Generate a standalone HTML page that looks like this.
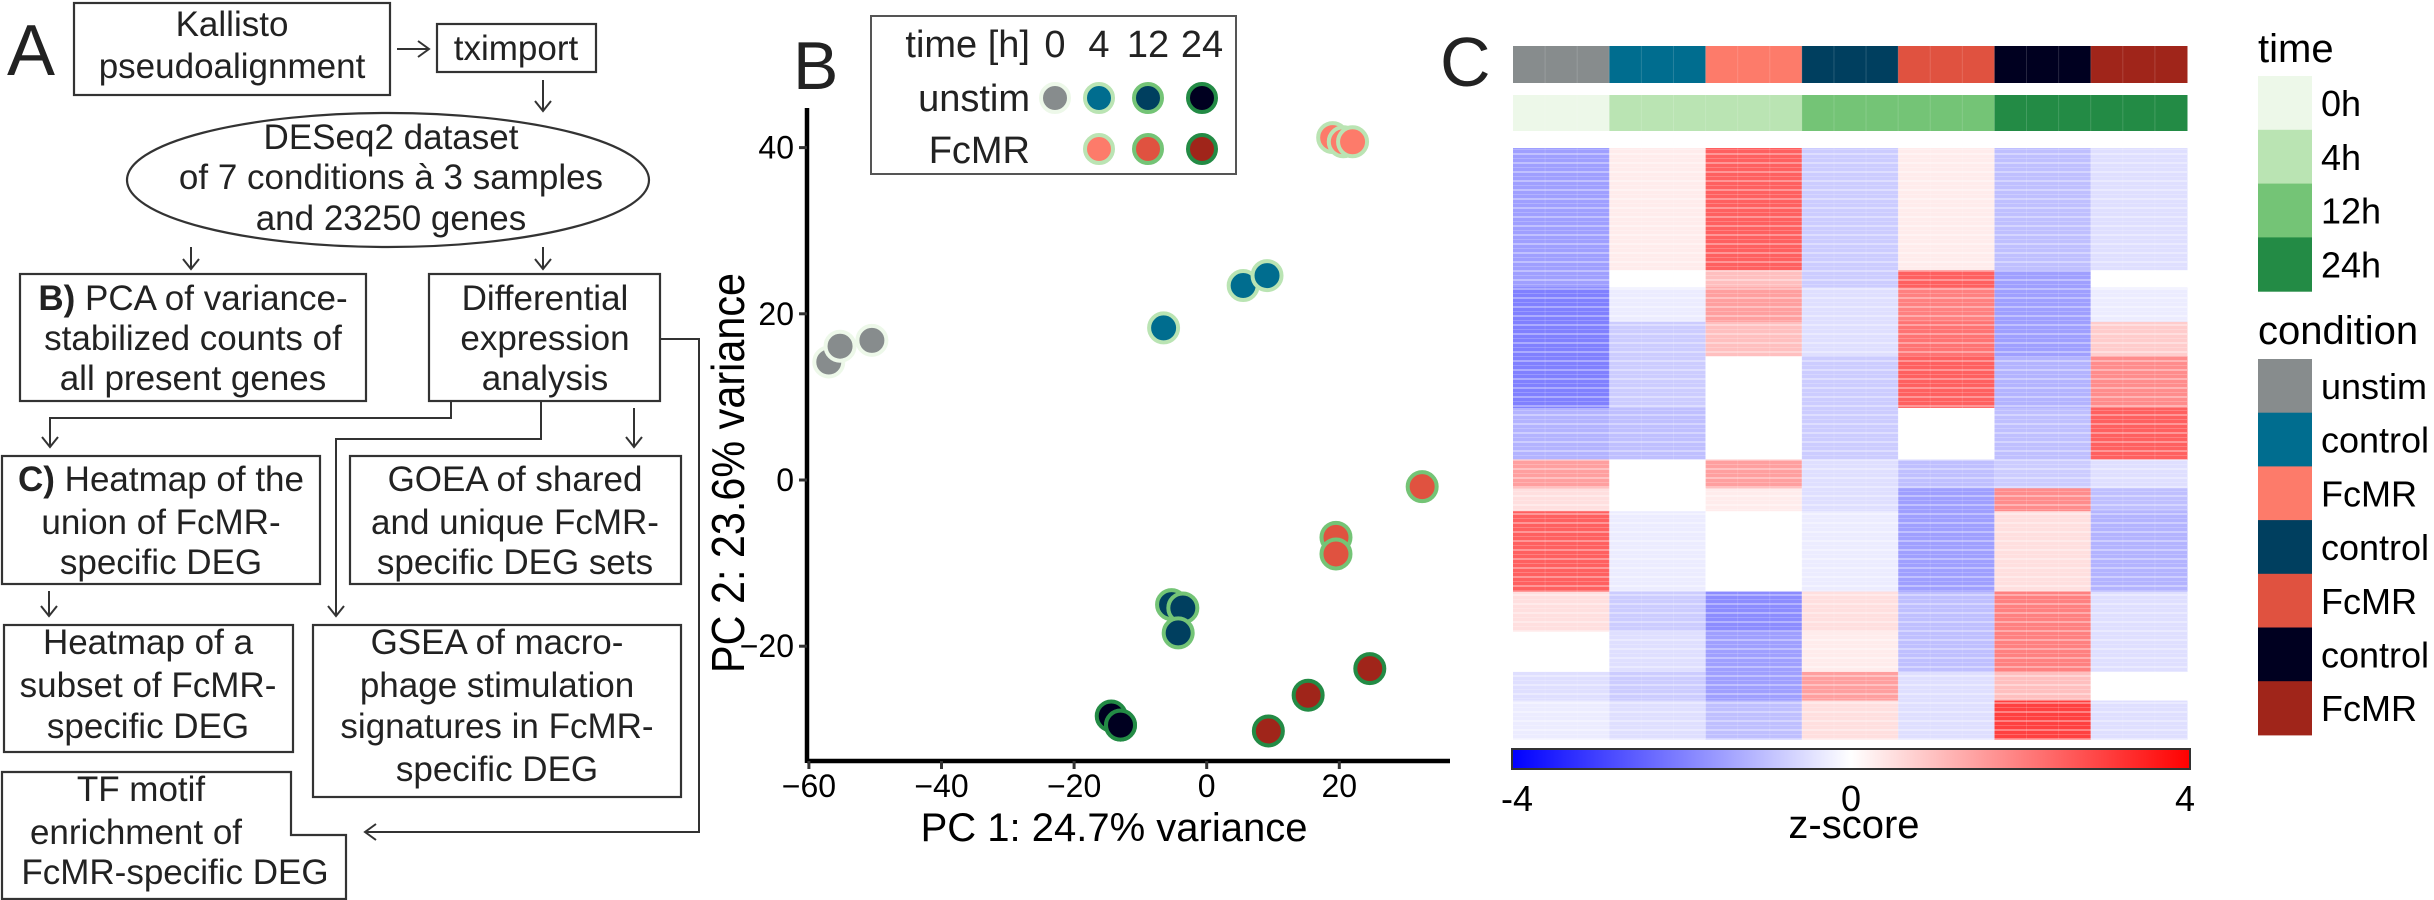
<!DOCTYPE html>
<html><head><meta charset="utf-8"><style>
html,body{margin:0;padding:0;background:#fff;}
svg{display:block;font-family:"Liberation Sans",sans-serif;}
.fc{font-size:35px;fill:#222;text-anchor:middle;}
.box{fill:none;stroke:#333;stroke-width:2.2;}
.ln{fill:none;stroke:#333;stroke-width:2;}
</style></head><body>
<svg id="fig" width="2434" height="900" viewBox="0 0 2434 900" xmlns="http://www.w3.org/2000/svg">
<!-- Panel A flowchart -->
<g>
<text x="7" y="75" font-size="72" fill="#222">A</text>
<rect class="box" x="74" y="3" width="316" height="92"/>
<text class="fc" x="232" y="36">Kallisto</text><text class="fc" x="232" y="78">pseudoalignment</text>
<path class="ln" d="M397 49 H428 M418 41 L429 49 L418 57"/>
<rect class="box" x="437" y="24" width="159" height="48"/>
<text class="fc" x="516" y="60">tximport</text>
<path class="ln" d="M543 80 V110 M535 101 L543 111 L551 101"/>
<ellipse class="box" cx="388" cy="180" rx="261" ry="67"/>
<text class="fc" x="391" y="149">DESeq2 dataset</text>
<text class="fc" x="391" y="189">of 7 conditions à 3 samples</text>
<text class="fc" x="391" y="230">and 23250 genes</text>
<path class="ln" d="M191 247 V268 M183 259 L191 269 L199 259 M543 247 V268 M535 259 L543 269 L551 259"/>
<rect class="box" x="20" y="274" width="346" height="127"/>
<text class="fc" x="193" y="310"><tspan font-weight="bold">B)</tspan> PCA of variance-</text>
<text class="fc" x="193" y="350">stabilized counts of</text>
<text class="fc" x="193" y="390">all present genes</text>
<rect class="box" x="429" y="274" width="231" height="127"/>
<text class="fc" x="545" y="310">Differential</text><text class="fc" x="545" y="350">expression</text><text class="fc" x="545" y="390">analysis</text>
<path class="ln" d="M660 339 H699 V832 H366 M376 824 L365 832 L376 840"/>
<path class="ln" d="M451 401 V418 H50 V446 M42 437 L50 447 L58 437"/>
<path class="ln" d="M541 401 V439 H336 V615 M328 606 L336 616 L344 606"/>
<path class="ln" d="M634 408 V446 M626 437 L634 447 L642 437"/>
<rect class="box" x="2" y="456" width="318" height="128"/>
<text class="fc" x="161" y="491"><tspan font-weight="bold">C)</tspan> Heatmap of the</text>
<text class="fc" x="161" y="534">union of FcMR-</text><text class="fc" x="161" y="574">specific DEG</text>
<rect class="box" x="350" y="456" width="331" height="128"/>
<text class="fc" x="515" y="491">GOEA of shared</text><text class="fc" x="515" y="534">and unique FcMR-</text><text class="fc" x="515" y="574">specific DEG sets</text>
<path class="ln" d="M49 591 V615 M41 606 L49 616 L57 606"/>
<rect class="box" x="4" y="625" width="289" height="127"/>
<text class="fc" x="148" y="654">Heatmap of a</text><text class="fc" x="148" y="697">subset of FcMR-</text><text class="fc" x="148" y="738">specific DEG</text>
<rect class="box" x="313" y="625" width="368" height="172"/>
<text class="fc" x="497" y="654">GSEA of macro-</text><text class="fc" x="497" y="697">phage stimulation</text>
<text class="fc" x="497" y="738">signatures in FcMR-</text><text class="fc" x="497" y="781">specific DEG</text>
<path class="box" d="M2 772 H291 V835 H346 V899 H2 Z"/>
<text class="fc" x="141" y="801">TF motif</text><text class="fc" x="136" y="844">enrichment of</text><text class="fc" x="175" y="884">FcMR-specific DEG</text>
</g>
<g id="pca">
<text x="793" y="89" font-size="68" fill="#222">B</text>
</g>
<g id="heat">
<text x="1440" y="86" font-size="70" fill="#222">C</text>
</g>
</svg>
<script>
// ---------- PCA data ----------
const pcaGroups = ['unstim0','ctrl4','fcmr4','ctrl12','fcmr12','ctrl24','fcmr24'];
const pcaX = [[-57,-55.3,-50.5],[-6.5,5.5,9.1],[19.0,20.6,22.0],[-5.3,-3.6,-4.3],[32.5,19.5,19.5],[-14.4,-13.0,-13.0],[9.3,15.3,24.6]];
const pcaY = [[14.2,16.1,16.8],[18.3,23.4,24.6],[41.2,40.7,40.7],[-15.0,-15.4,-18.4],[-0.8,-6.9,-8.9],[-28.4,-29.5,-29.5],[-30.2,-25.9,-22.7]];
const xTicks = [-60,-40,-20,0,20];
const yTicks = [40,20,0,-20];
const condColors = ['#878c8d','#006d8f','#fd7b6a','#003f5f','#e05240','#000020','#a0251a'];
const timeColors = ['#edf8e9','#bae4b3','#74c476','#238b45'];
const groupTime = [0,1,1,2,2,3,3];
// ---------- Heatmap data (7 condition groups x row segments) ----------
const segHeights = [213,30,60,60,90,90,50,40,140,70,70,50,67];
const segValues = [
 [-1.5,0.3,2.5,-0.8,0.3,-1,-0.5],
 [-1.5,0,1,-0.8,2.5,-1.5,0],
 [-2,-0.3,1.5,-0.5,2,-1.5,-0.3],
 [-2,-0.8,1,-0.5,2.2,-1.5,0.8],
 [-2,-0.8,0,-0.8,2.5,-1.2,1.8],
 [-1.2,-1,0,-0.8,0,-1,2.5],
 [1.5,0,1.5,-0.5,-1,-0.8,-0.5],
 [0.5,0,0.3,-0.5,-1.5,1.8,-1],
 [2.5,-0.3,0,-0.3,-1.5,0.5,-1.2],
 [0.5,-0.8,-1.8,0.5,-1,2,-0.5],
 [0,-0.5,-1.5,0.3,-1,2,-0.5],
 [-0.5,-0.8,-1.5,1.5,-0.5,1,0],
 [-0.3,-0.5,-1,0.5,-0.5,3,-0.5]];
const cbTicks = [-4,0,4];
const timeLabels = ['0h','4h','12h','24h'];
const condLabels = ['unstim','control','FcMR','control','FcMR','control','FcMR'];

const NS='http://www.w3.org/2000/svg';
function mk(tag, attrs, parent){const e=document.createElementNS(NS,tag);for(const k in attrs)e.setAttribute(k,attrs[k]);parent.appendChild(e);return e;}
// PCA axes
const pca=document.getElementById('pca');
const sx=v=>1206.7+6.63*v, sy=v=>480-8.31*v;
let ax=mk('line',{x1:807,y1:761,x2:1450,y2:761,stroke:'#000','stroke-width':4.5},pca);


let ay=mk('line',{x1:807,y1:108,x2:807,y2:763,stroke:'#000','stroke-width':4.5},pca);


xTicks.forEach(t=>{
 mk('line',{x1:sx(t),y1:761,x2:sx(t),y2:769,stroke:'#333','stroke-width':3},pca);
 const tx=mk('text',{x:sx(t),y:797,'font-size':32,'text-anchor':'middle',fill:'#000'},pca);
 tx.textContent=(t<0?'\u2212':'')+Math.abs(t);
 
 
});
yTicks.forEach(t=>{
 mk('line',{x1:799,y1:sy(t),x2:807,y2:sy(t),stroke:'#333','stroke-width':3},pca);
 const tx=mk('text',{x:794,y:sy(t)+11,'font-size':32,'text-anchor':'end',fill:'#000'},pca);
 tx.textContent=(t<0?'\u2212':'')+Math.abs(t);
 
 
});
let xt=mk('text',{x:1114,y:841,'font-size':40,'text-anchor':'middle',fill:'#000'},pca);
xt.textContent='PC 1: 24.7% variance';


let yt=mk('text',{x:0,y:0,'font-size':46,'text-anchor':'middle',fill:'#000',transform:'translate(744,473) rotate(-90)',textLength:400,lengthAdjust:'spacingAndGlyphs'},pca);
yt.textContent='PC 2: 23.6% variance';


pcaGroups.forEach((g,gi)=>{
 pcaX[gi].forEach((xv,i)=>{
  const c=mk('circle',{cx:sx(xv),cy:sy(pcaY[gi][i]),r:14.5,fill:condColors[gi],stroke:timeColors[groupTime[gi]],'stroke-width':4},pca);
  
  
 });
});
// legend
const lg=mk('g',{},pca);


mk('rect',{x:871,y:16,width:365,height:158,fill:'#fff',stroke:'#555','stroke-width':2},lg);
const lcols=[1055,1099,1148,1202];
const addT=(x,y,s,anc)=>{const t=mk('text',{x:x,y:y,'font-size':38,'text-anchor':anc,fill:'#222'},lg);t.textContent=s;return t;};
addT(1030,57,'time [h]','end');
['0','4','12','24'].forEach((s,i)=>addT(lcols[i],57,s,'middle'));
addT(1030,111,'unstim','end');addT(1030,163,'FcMR','end');
const legUn=[0,1,3,5], legFc=[2,4,6];
legUn.forEach((gi,i)=>{const c=mk('circle',{cx:lcols[i],cy:98,r:14,fill:condColors[gi],stroke:timeColors[i],'stroke-width':4},lg);
 
 });
legFc.forEach((gi,i)=>{const c=mk('circle',{cx:lcols[i+1],cy:149,r:14,fill:condColors[gi],stroke:timeColors[i+1],'stroke-width':4},lg);
 
 });

// ---------- Heatmap ----------
const hm=document.getElementById('heat');
const HX0=1513,HX1=2187,HY0=148,HY1=739;
const colW=(HX1-HX0)/21;
function zcol(v){v=Math.max(-4,Math.min(4,v));const f=Math.abs(v)/4;const c=Math.round(255*(1-f));
 return v<0?`rgb(${c},${c},255)`:`rgb(255,${c},${c})`;}
for(let j=0;j<21;j++){
 const gi=Math.floor(j/3);
 const a=mk('rect',{x:HX0+j*colW,y:46,width:colW+0.5,height:37,fill:condColors[gi]},hm);
 
 
 const b=mk('rect',{x:HX0+j*colW,y:95,width:colW+0.5,height:36,fill:timeColors[groupTime[gi]]},hm);
 
 
}
const totH=segHeights.reduce((a,b)=>a+b,0);
let acc=0;
segHeights.forEach((h,si)=>{
 const y0=HY0+acc/totH*(HY1-HY0), hh=h/totH*(HY1-HY0);
 for(let j=0;j<21;j++){
  const gi=Math.floor(j/3);
  const r=mk('rect',{x:HX0+j*colW,y:y0,width:colW+0.5,height:hh+0.5,fill:zcol(segValues[si][gi])},hm);
  
  
 }
 acc+=h;
});
// faint stripe texture
const defs=mk('defs',{},hm);
const pat=mk('pattern',{id:'stripes',width:10,height:9,patternUnits:'userSpaceOnUse'},defs);
mk('rect',{x:0,y:0,width:10,height:2,fill:'#fff','fill-opacity':0.35},pat);
mk('rect',{x:0,y:5,width:10,height:1,fill:'#fff','fill-opacity':0.2},pat);
mk('rect',{x:HX0,y:HY0,width:HX1-HX0,height:HY1-HY0,fill:'url(#stripes)'},hm);
for(let j=1;j<21;j++) mk('line',{x1:HX0+j*colW,y1:46,x2:HX0+j*colW,y2:HY1,stroke:'#fff','stroke-opacity':0.15,'stroke-width':1},hm);
// colorbar
const grad=mk('linearGradient',{id:'zgrad',x1:0,x2:1,y1:0,y2:0},defs);
mk('stop',{offset:'0','stop-color':'#0000ff'},grad);
mk('stop',{offset:'0.5','stop-color':'#ffffff'},grad);
mk('stop',{offset:'1','stop-color':'#ff0000'},grad);
const cb=mk('rect',{x:1512,y:749,width:678,height:20,fill:'url(#zgrad)',stroke:'#333','stroke-width':2},hm);


const cbx=v=>1517+(v+4)/8*668;
cbTicks.forEach(t=>{const tx=mk('text',{x:cbx(t),y:811,'font-size':36,'text-anchor':'middle',fill:'#000'},hm);
 tx.textContent=String(t);
 
 });
const zt=mk('text',{x:1854,y:838,'font-size':40,'text-anchor':'middle',fill:'#000'},hm);
zt.textContent='z-score';


// right legends
const tt=mk('text',{x:2258,y:62,'font-size':40,fill:'#000'},hm);
tt.textContent='time';


timeLabels.forEach((s,i)=>{
 const r=mk('rect',{x:2258,y:76+i*53.8,width:54,height:54.3,fill:timeColors[i]},hm);
 
 
 const t=mk('text',{x:2321,y:76+i*53.8+40,'font-size':36,fill:'#000'},hm);t.textContent=s;
 
 
});
const ct=mk('text',{x:2258,y:344,'font-size':40,fill:'#000'},hm);
ct.textContent='condition';


condLabels.forEach((s,i)=>{
 const r=mk('rect',{x:2258,y:359+i*53.7,width:54,height:54.2,fill:condColors[i]},hm);
 
 
 const t=mk('text',{x:2321,y:359+i*53.7+40,'font-size':36,fill:'#000'},hm);t.textContent=s;
 
 
});
</script>
</body></html>
